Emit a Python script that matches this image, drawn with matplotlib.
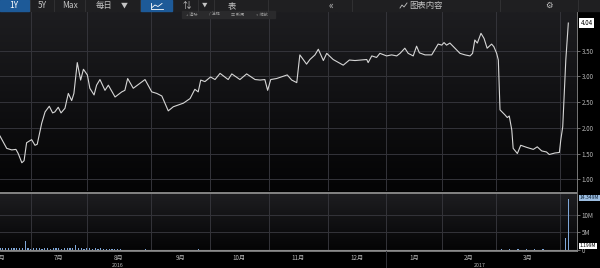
import numpy as np
import matplotlib
matplotlib.use('Agg')
import matplotlib.pyplot as plt
import matplotlib.transforms as mtrans
from matplotlib.colors import LinearSegmentedColormap
from matplotlib.patches import Rectangle
from matplotlib.lines import Line2D

plt.rcParams['font.family'] = ['Noto Sans CJK SC', 'DejaVu Sans']

# 가격 (거래일 번호, 값)
price_day = [0, 2.4, 4.2, 5.7, 6.5, 7.8, 8.6, 9.5, 11.3, 12.5, 13.3, 14.9, 16.1, 17.6, 18.8,
             19.6, 20.8, 21.8, 23.2, 24.4, 25.6, 26.4, 27.6, 28.8, 29.8, 31.2, 32.1, 33.6,
             34.5, 35.7, 37.5, 38.7, 41.1, 43.5, 44.6, 45.6, 47.6, 51.8, 54.2, 56.0, 57.8,
             60.1, 61.9, 65.5, 67.9, 69.6, 70.8, 71.7, 73.2, 75.2, 76.8, 78.6, 81.5, 82.8,
             85.7, 88.1, 91.1, 92.9, 94.6, 95.6, 96.7, 98.8, 102.6, 104.2, 106.0, 107.1,
             109.5, 110.7, 112.5, 113.7, 115.5, 116.7, 119.0, 122.6, 124.8, 126.8, 131.0,
             131.5, 132.8, 134.5, 135.7, 138.1, 139.9, 141.7, 142.9, 144.6, 145.8, 147.6,
             148.8, 149.8, 151.8, 154.2, 156.5, 157.8, 158.6, 159.5, 160.7, 164.3, 166.1,
             167.9, 168.8, 169.6, 170.5, 171.8, 172.9, 174.0, 175.6, 176.4, 177.4, 178.0,
             178.6, 180.4, 181.2, 181.9, 182.8, 183.3, 184.8, 186.0, 188.1, 190.5, 191.9,
             193.5, 195.2, 196.2, 198.2, 199.8, 200.3, 201.0, 201.4, 202.1, 203.0]
price = [1.84, 1.60, 1.57, 1.58, 1.50, 1.32, 1.36, 1.71, 1.77, 1.66, 1.68, 2.09, 2.31, 2.42, 2.29,
         2.31, 2.40, 2.29, 2.38, 2.67, 2.53, 2.67, 3.27, 2.93, 3.14, 3.03, 2.77, 2.64,
         2.83, 2.94, 2.73, 2.83, 2.60, 2.70, 2.73, 2.96, 2.77, 2.94, 2.70, 2.67, 2.62,
         2.33, 2.41, 2.48, 2.57, 2.75, 2.70, 2.93, 2.90, 2.99, 2.94, 3.06, 2.94, 3.05,
         2.94, 3.05, 2.94, 2.93, 2.94, 2.73, 2.94, 2.96, 3.03, 2.93, 2.88, 3.42,
         3.24, 3.33, 3.42, 3.53, 3.31, 3.45, 3.33, 3.22, 3.32, 3.31, 3.33,
         3.27, 3.40, 3.37, 3.45, 3.40, 3.42, 3.40, 3.45, 3.55, 3.45, 3.40,
         3.59, 3.46, 3.42, 3.42, 3.63, 3.61, 3.66, 3.61, 3.65, 3.45, 3.42,
         3.40, 3.45, 3.71, 3.65, 3.84, 3.74, 3.55, 3.63, 3.58, 3.45, 3.32,
         2.35, 2.25, 2.20, 2.23, 1.96, 1.60, 1.50, 1.66, 1.62, 1.58, 1.63,
         1.55, 1.53, 1.48, 1.51, 1.52, 1.76, 2.02, 2.48, 3.32, 4.04]

# 거래량 (백만)
vol_day = [0, 1, 2, 3, 4, 5, 6, 7, 8, 9, 10, 11, 12, 13, 14, 15, 16, 17, 18, 19, 20, 21,
           22, 23, 24, 25, 26, 27, 28, 29, 30, 31, 32, 33, 34, 35, 36, 37, 38, 39, 40, 41,
           42, 43, 52, 71, 179, 182, 185, 188, 191, 194, 202, 203]
vol = [0.65, 0.60, 0.70, 0.65, 0.60, 0.70, 0.65, 0.60, 0.50, 2.50, 0.45, 0.40, 0.45, 0.50,
       0.45, 0.40, 0.45, 0.45, 0.40, 0.45, 0.50, 0.45, 0.40, 0.45, 0.45, 0.50, 0.45, 1.40,
       0.60, 0.45, 0.40, 0.45, 0.45, 0.40, 0.45, 0.40, 0.45, 0.40, 0.35, 0.40, 0.35, 0.40,
       0.35, 0.30, 0.25, 0.20, 0.40, 0.25, 0.25, 0.25, 0.25, 0.20, 3.30, 14.349]

month_names = ['6月', '7月', '8月', '9月', '10月', '11月', '12月', '1月', '2月', '3月']
month_start = [-11, 11, 31, 54, 75, 96, 117, 138, 158, 177, 200]

W, H = 600, 268


def box(x0, y0, x1, y1):
    return [x0 / W, 1 - y1 / H, (x1 - x0) / W, (y1 - y0) / H]


def fx(x):
    return x / W


def fy(y):
    return 1 - y / H


fig = plt.figure(figsize=(6, 2.68), dpi=100, facecolor='#000000')

grad = LinearSegmentedColormap.from_list('g', ['#040405', '#1d1d20'])
grid_c = '#34343a'
txt_c = '#b8b8b8'

# 메인 가격 패널
ax = fig.add_axes(box(0, 12, 577, 191))
ax.imshow(np.linspace(0, 1, 64).reshape(-1, 1), extent=(0, 206.1, 0.77, 4.255),
          aspect='auto', cmap=grad, origin='lower', zorder=0)
ax.set_xlim(0, 206.1)
ax.set_ylim(0.77, 4.255)
for m in month_start[1:]:
    ax.axvline(m, color=grid_c, lw=0.7, zorder=1)
for v in [1.0, 1.5, 2.0, 2.5, 3.0, 3.5]:
    ax.axhline(v, color=grid_c, lw=0.7, zorder=1)
ax.plot(price_day, price, color='#d6d6d6', lw=0.8, zorder=3)
ax.yaxis.tick_right()
ax.set_yticks([1.0, 1.5, 2.0, 2.5, 3.0, 3.5])
ax.set_yticklabels(['1.00', '1.50', '2.00', '2.50', '3.00', '3.50'])
ax.tick_params(axis='y', colors='#999999', labelcolor=txt_c, labelsize=4.5, length=2,
               width=0.5, pad=1.5)
ax.set_xticks([])
for s in ['top', 'left', 'bottom']:
    ax.spines[s].set_visible(False)
ax.spines['right'].set_color('#8a8a8a')
ax.spines['right'].set_linewidth(0.6)
tr = mtrans.blended_transform_factory(ax.transAxes, ax.transData)
ax.text(1.006, price[-1], '%.2f' % price[-1], transform=tr, ha='left', va='center',
        fontsize=4.5, color='black', clip_on=False,
        bbox=dict(boxstyle='square,pad=0.2', fc='white', ec='none'))

# 거래량 패널
axv = fig.add_axes(box(0, 194, 577, 251), sharex=ax)
axv.imshow(np.linspace(0, 1, 64).reshape(-1, 1), extent=(0, 206.1, -0.28, 15.9),
           aspect='auto', cmap=grad, origin='lower', zorder=0)
axv.set_ylim(-0.28, 15.9)
for m in month_start[1:]:
    axv.axvline(m, color=grid_c, lw=0.7, zorder=1)
for v in [5, 10]:
    axv.axhline(v, color=grid_c, lw=0.7, zorder=1)
axv.axhline(0, color='#8a8a8a', lw=0.8, zorder=2)
axv.bar(vol_day, vol, width=0.45, color='#7fa7d8', zorder=3)
axv.yaxis.tick_right()
axv.set_yticks([0, 5, 10])
axv.set_yticklabels(['0', '5M', '10M'])
axv.tick_params(axis='y', colors='#999999', labelcolor=txt_c, labelsize=4.5, length=2,
                width=0.5, pad=1.5)
mid = [(month_start[i] + month_start[i + 1]) / 2 for i in range(len(month_names))]
axv.set_xticks(mid)
axv.set_xticklabels(month_names)
axv.tick_params(axis='x', colors=txt_c, labelsize=4.5, length=0, pad=2)
axv.set_xlim(0, 206.1)
for s in ['top', 'left']:
    axv.spines[s].set_visible(False)
axv.spines['bottom'].set_color('#8a8a8a')
axv.spines['bottom'].set_linewidth(0.6)
axv.spines['right'].set_color('#8a8a8a')
axv.spines['right'].set_linewidth(0.6)
trv = mtrans.blended_transform_factory(axv.transAxes, axv.transData)
axv.text(1.004, 14.8, '%.3fM' % vol[-1], transform=trv, ha='left', va='center',
         fontsize=3.6, color='#10263e', clip_on=False,
         bbox=dict(boxstyle='square,pad=0.15', fc='#9cbde0', ec='none'))
axv.text(1.004, 1.199, '1.199M', transform=trv, ha='left', va='center',
         fontsize=3.6, color='black', clip_on=False,
         bbox=dict(boxstyle='square,pad=0.15', fc='white', ec='none'))

# 연도 라벨과 구분선
try_ = mtrans.blended_transform_factory(axv.transData, fig.transFigure)
fig.text(42, fy(265.2), '2016', transform=try_, ha='center', va='center', fontsize=3.8,
         color=txt_c)
fig.text(171.5, fy(265.2), '2017', transform=try_, ha='center', va='center', fontsize=3.8,
         color=txt_c)
fig.add_artist(Line2D([138, 138], [fy(251), fy(268)], transform=try_, color=grid_c, lw=0.7))

# 패널 구분선
fig.add_artist(Line2D([0, fx(577)], [fy(193), fy(193)], color='#9a9a9a', lw=1.2))

# 상단 툴바
fig.add_artist(Rectangle((0, fy(11)), 1, 11 / H, transform=fig.transFigure,
                         color='#1f1f21', zorder=0))
fig.add_artist(Rectangle((0, fy(11)), fx(29), 11 / H, transform=fig.transFigure,
                         color='#1d5a98', zorder=1))
fig.add_artist(Rectangle((fx(141), fy(11)), fx(31), 11 / H, transform=fig.transFigure,
                         color='#1d5a98', zorder=1))
for sx in [30, 54, 85, 140, 198, 214, 268, 352, 500, 578]:
    fig.add_artist(Line2D([fx(sx), fx(sx)], [fy(11), fy(0)], color='#343436', lw=0.6))

tb = dict(va='center', ha='center', fontsize=6, color='#c4c4c4')
fig.text(fx(14), fy(5.5), '1Y', **dict(tb, color='white'))
fig.text(fx(42), fy(5.5), '5Y', **tb)
fig.text(fx(70), fy(5.5), 'Max', **tb)
fig.text(fx(104), fy(5.5), '每日', **tb)
fig.text(fx(124), fy(5.5), '▼', **dict(tb, fontsize=5))
fig.add_artist(Line2D([fx(151), fx(151), fx(163)], [fy(3), fy(9), fy(9)],
                      color='white', lw=0.6))
fig.add_artist(Line2D([fx(152), fx(155), fx(158), fx(162)], [fy(7.5), fy(5), fy(6.5), fy(3.5)],
                      color='white', lw=0.6))
fig.text(fx(187), fy(5.5), '⇅', **tb)
fig.text(fx(205), fy(5.5), '▼', **dict(tb, fontsize=4))
fig.text(fx(232), fy(5.5), '表', **tb)
fig.text(fx(331), fy(5.5), '«', **dict(tb, fontsize=7))
fig.add_artist(Line2D([fx(400), fx(402), fx(404), fx(407)], [fy(8), fy(5), fy(7), fy(3)],
                      color='#c4c4c4', lw=0.6))
fig.text(fx(426), fy(5.5), '图表内容', **tb)
fig.text(fx(549), fy(5.5), '⚙', **tb)

# 작은 보조 툴바
fig.add_artist(Rectangle((fx(182), fy(18)), fx(93), 7 / H, transform=fig.transFigure,
                         color='#2a2a2c', zorder=1))
sub = dict(va='center', ha='center', fontsize=3, color='#9a9a9a')
fig.text(fx(192), fy(14.5), '+ 追踪', **sub)
fig.text(fx(214), fy(14.5), '/ 注释', **sub)
fig.text(fx(238), fy(14.5), '▥ 新闻', **sub)
fig.text(fx(262), fy(14.5), '∘ 缩放', **sub)

fig.savefig('out.png', dpi=100, facecolor=fig.get_facecolor())
